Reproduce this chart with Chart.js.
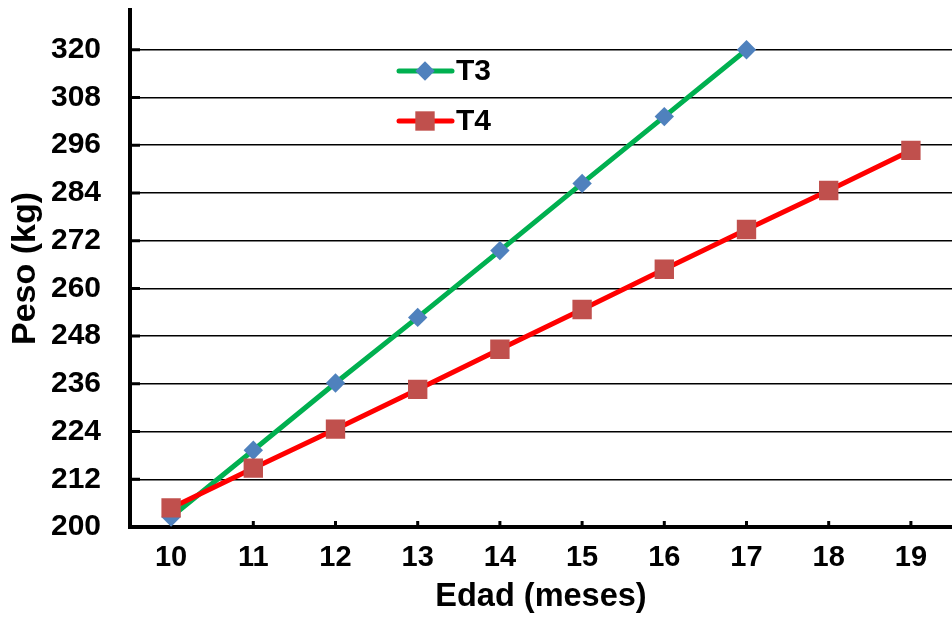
<!DOCTYPE html>
<html>
<head>
<meta charset="utf-8">
<script src="https://cdn.jsdelivr.net/npm/chart.js@4.4.1/dist/chart.umd.min.js"></script>
<style>
  html, body { margin: 0; padding: 0; background: #fff; }
  #wrap { width: 952px; height: 617px; }
</style>
</head>
<body>
<div id="wrap"><canvas id="chart" width="952" height="617"></canvas></div>
<script>
// Values
const edades = ['10', '11', '12', '13', '14', '15', '16', '17', '18', '19'];
const pesoT3 = [202.5, 219.3, 236.2, 252.7, 269.5, 286.4, 303.2, 320, null, null];
const pesoT4 = [204.8, 214.8, 224.6, 234.6, 244.7, 254.7, 264.8, 274.8, 284.6, 294.7];
const yTicks = [200, 212, 224, 236, 248, 260, 272, 284, 296, 308, 320];

const FONT = "'Liberation Sans', Arial, sans-serif";
const font = size => ({ family: FONT, size: size, weight: 'bold', lineHeight: 1.2 });

// short thick tick marks pointing into the plot area
const axisMarks = {
    id: 'axisMarks',
    beforeDatasetsDraw(chart) {
        const ctx = chart.ctx;
        const area = chart.chartArea;
        const xs = chart.scales.x, ys = chart.scales.y;
        ctx.save();
        ctx.strokeStyle = '#000';
        ctx.lineWidth = 3;
        ctx.beginPath();
        yTicks.forEach(v => {
            const py = ys.getPixelForValue(v);
            ctx.moveTo(area.left, py);
            ctx.lineTo(area.left + 10, py);
        });
        edades.forEach((c, i) => {
            const px = xs.getPixelForValue(i);
            ctx.moveTo(px, area.bottom);
            ctx.lineTo(px, area.bottom - 6);
        });
        ctx.stroke();
        ctx.restore();
    }
};

// legend sitting inside the plot, like the original
const insideLegend = {
    id: 'insideLegend',
    afterDraw(chart) {
        const ctx = chart.ctx;
        const rows = [71, 121];
        chart.data.datasets.forEach((ds, i) => {
            const y = rows[i];
            ctx.save();
            ctx.strokeStyle = ds.borderColor;
            ctx.lineWidth = 5;
            ctx.lineCap = 'round';
            ctx.beginPath();
            ctx.moveTo(399, y);
            ctx.lineTo(452, y);
            ctx.stroke();
            ctx.fillStyle = ds.pointBackgroundColor;
            const r = ds.pointRadius;
            ctx.beginPath();
            if (ds.pointStyle === 'rectRot') {
                ctx.moveTo(425, y - r);
                ctx.lineTo(425 + r, y);
                ctx.lineTo(425, y + r);
                ctx.lineTo(425 - r, y);
                ctx.closePath();
            } else {
                const h = r * Math.SQRT1_2;
                ctx.rect(425 - h, y - h, 2 * h, 2 * h);
            }
            ctx.fill();
            ctx.fillStyle = '#000';
            ctx.font = 'bold 30px ' + FONT;
            ctx.textAlign = 'left';
            ctx.textBaseline = 'middle';
            ctx.fillText(ds.label, 456, y + 1);
            ctx.restore();
        });
    }
};

const ctx = document.getElementById('chart').getContext('2d');

new Chart(ctx, {
    type: 'line',
    data: {
        labels: edades,
        datasets: [{
            label: 'T3',
            data: pesoT3,
            borderColor: '#00B050',
            borderWidth: 5,
            pointStyle: 'rectRot',
            pointRadius: 9.7,
            pointBackgroundColor: '#4F81BD',
            pointBorderColor: '#4F81BD',
            pointBorderWidth: 0,
            tension: 0,
            order: 2
        }, {
            label: 'T4',
            data: pesoT4,
            borderColor: '#FF0000',
            borderWidth: 5,
            pointStyle: 'rect',
            pointRadius: 13.7,
            pointBackgroundColor: '#C0504D',
            pointBorderColor: '#C0504D',
            pointBorderWidth: 0,
            tension: 0,
            order: 1
        }]
    },
    options: {
        responsive: false,
        animation: false,
        layout: { autoPadding: false, padding: { top: 10, left: 0, right: 0, bottom: 0 } },
        plugins: {
            legend: { display: false },
            tooltip: { enabled: false }
        },
        scales: {
            x: {
                offset: true,
                afterFit: s => { s.height = 90; s.paddingLeft = 0; s.paddingRight = 0; },
                grid: { display: false, drawTicks: false },
                border: { display: true, color: '#000', width: 4 },
                ticks: { color: '#000', font: font(29), padding: 14, maxRotation: 0 },
                title: {
                    display: true, text: 'Edad (meses)', color: '#000',
                    font: font(32.5), padding: { top: 0, bottom: 0 }
                }
            },
            y: {
                min: 200,
                max: 330,
                afterBuildTicks: s => { s.ticks = yTicks.map(v => ({ value: v })); },
                afterFit: s => { s.width = 130; s.paddingTop = 0; s.paddingBottom = 0; },
                grid: { color: '#000', lineWidth: 1.5, drawTicks: false },
                border: { display: true, color: '#000', width: 4 },
                ticks: { color: '#000', font: font(30), padding: 29 },
                title: {
                    display: true, text: 'Peso (kg)', color: '#000',
                    font: font(34), padding: { top: 5.5, bottom: 0 }
                }
            }
        }
    },
    plugins: [axisMarks, insideLegend]
});
</script>
</body>
</html>
